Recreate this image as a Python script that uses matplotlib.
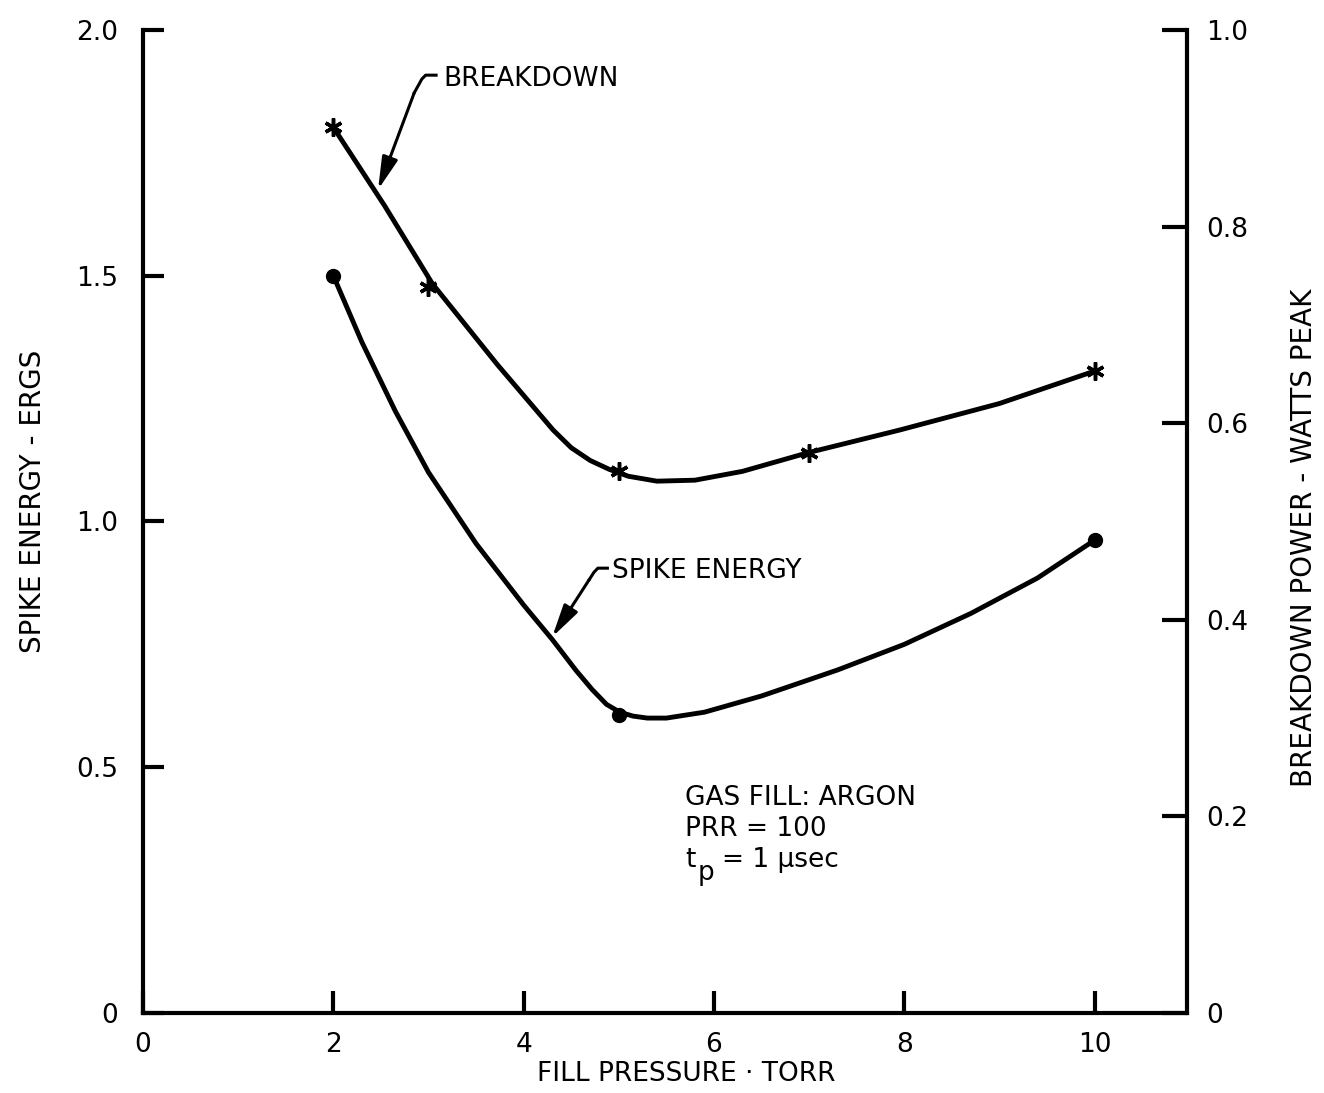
import matplotlib
matplotlib.use("Agg")
import matplotlib.pyplot as plt

# measured points
spike_p = [2, 5, 10]
spike_e = [1.50, 0.606, 0.962]          # ergs, left axis
brk_p = [2, 3, 5, 7, 10]
brk_w = [0.901, 0.739, 0.551, 0.570, 0.653]   # watts peak, right axis

# hand-drawn curves
spike_curve_x = [2.0, 2.3, 2.65, 3.0, 3.5, 4.0, 4.3, 4.55, 4.72, 4.87, 5.01, 5.15, 5.3,
                 5.5, 5.9, 6.5, 7.3, 8.0, 8.7, 9.4, 10.0]
spike_curve_y = [1.50, 1.365, 1.225, 1.10, 0.955, 0.83, 0.760, 0.697, 0.658, 0.628,
                 0.612, 0.604, 0.600, 0.600, 0.612, 0.645, 0.698, 0.750, 0.813, 0.885, 0.962]
brk_curve_x = [2.0, 2.54, 3.04, 3.72, 4.31, 4.5, 4.7, 4.9, 5.1, 5.4, 5.8, 6.3, 6.99,
               7.95, 9.0, 10.0]
brk_curve_y = [0.901, 0.821, 0.742, 0.660, 0.593, 0.575, 0.562, 0.553, 0.546, 0.541,
               0.542, 0.551, 0.570, 0.593, 0.620, 0.653]

x_ticks = [0, 2, 4, 6, 8, 10]
left_ticks = [0, 0.5, 1.0, 1.5, 2.0]
left_labels = ["0", "0.5", "1.0", "1.5", "2.0"]
right_ticks = [0, 0.2, 0.4, 0.6, 0.8, 1.0]
right_labels = ["0", "0.2", "0.4", "0.6", "0.8", "1.0"]

plt.rcParams['font.family'] = ['DejaVu Sans']
fs = 19
lw = 3.5

fig = plt.figure(figsize=(13.24, 10.93), dpi=100)
ax = fig.add_axes([0.108, 0.0732, 0.7885, 0.8994])
ax2 = ax.twinx()

ax.set_xlim(0, 10.97)
ax.set_ylim(0, 2.0)
ax2.set_ylim(0, 1.0)

ax.plot(spike_curve_x, spike_curve_y, color='black', lw=lw, solid_joinstyle='round',
        solid_capstyle='round')
ax.plot(spike_p, spike_e, 'o', color='black', ms=10)
ax2.plot(brk_curve_x, brk_curve_y, color='black', lw=lw, solid_joinstyle='round',
         solid_capstyle='round')
ax2.plot(brk_p, brk_w, marker=(6, 2, 0), ls='none', color='black', ms=13, mew=2.5)

for a in (ax, ax2):
    a.spines['top'].set_visible(False)
    for s in a.spines.values():
        s.set_linewidth(3)
ax.spines['right'].set_visible(False)
ax2.spines['left'].set_visible(False)
ax2.spines['bottom'].set_visible(False)

ax.set_xticks(x_ticks)
ax.set_xticklabels([str(t) for t in x_ticks])
ax.set_yticks(left_ticks)
ax.set_yticklabels(left_labels)
ax2.set_yticks(right_ticks)
ax2.set_yticklabels(right_labels)
ax.tick_params(axis='x', direction='in', length=16, width=3, labelsize=fs, pad=14)
ax.tick_params(axis='y', direction='in', length=15, width=3, labelsize=fs, pad=18)
ax2.tick_params(axis='y', direction='in', length=18, width=3, labelsize=fs, pad=14)

ax.set_xlabel("FILL PRESSURE · TORR", fontsize=fs, labelpad=2, x=0.52)
ax.set_ylabel("SPIKE ENERGY - ERGS", fontsize=20, labelpad=21, y=0.52)
ax2.set_ylabel("BREAKDOWN POWER - WATTS PEAK", fontsize=20, labelpad=30, y=0.483)

# curve labels with leader arrows
head = '-|>,head_length=0.9,head_width=0.22'
ax.text(3.16, 1.90, "BREAKDOWN", fontsize=fs, va='center', ha='left')
ax.plot([3.08, 2.97, 2.93, 2.85], [1.908, 1.908, 1.90, 1.872], color='black', lw=2.2)
ax.annotate("", xy=(2.47, 1.675), xytext=(2.85, 1.872),
            arrowprops=dict(arrowstyle=head, color='black', lw=2.2, mutation_scale=22,
                            shrinkA=0, shrinkB=0))

ax.text(4.93, 0.90, "SPIKE ENERGY", fontsize=fs, va='center', ha='left')
ax.plot([4.88, 4.78, 4.74, 4.69], [0.905, 0.905, 0.897, 0.882], color='black', lw=2.2)
ax.annotate("", xy=(4.30, 0.765), xytext=(4.69, 0.882),
            arrowprops=dict(arrowstyle=head, color='black', lw=2.2, mutation_scale=22,
                            shrinkA=0, shrinkB=0))

ax.text(5.70, 0.4375, "GAS FILL: ARGON", fontsize=fs, va='center', ha='left')
ax.text(5.70, 0.374, "PRR = 100", fontsize=fs, va='center', ha='left')
ax.text(5.70, 0.312, "t", fontsize=fs, va='center', ha='left')
ax.text(5.83, 0.285, "p", fontsize=fs, va='center', ha='left')
ax.text(6.08, 0.312, "= 1 μsec", fontsize=fs, va='center', ha='left')

fig.savefig("out.png", dpi=100)
